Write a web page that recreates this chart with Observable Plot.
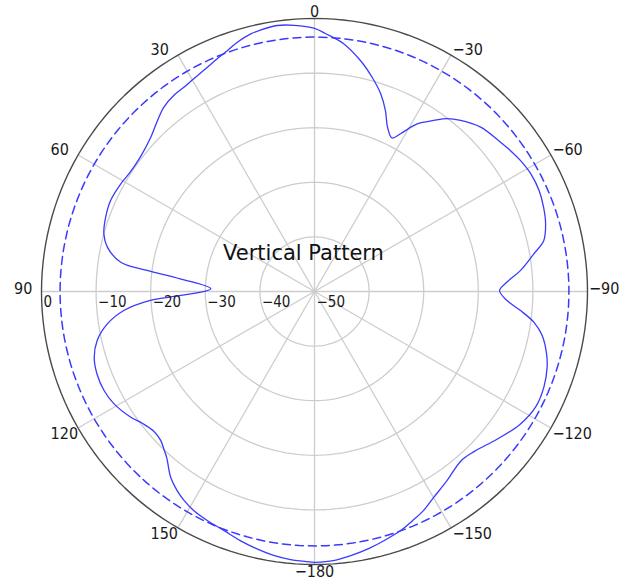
<!DOCTYPE html>
<html>
<head>
<meta charset="utf-8">
<script src="https://cdn.jsdelivr.net/npm/d3@7"></script>
<script src="https://cdn.jsdelivr.net/npm/@observablehq/plot@0.6"></script>
<style>
  html, body { margin: 0; padding: 0; background: #fff; }
</style>
</head>
<body>
<div id="chart"></div>
<script>
// ---- data ----
const title = "Vertical Pattern";
const angles = [-180,-176,-172,-168,-164,-160,-157,-153.5,-150,-145,-139,-135,-129,-123,-117.5,-112.5,-108,-105,-101,-98,-95.3,-92.7,-89.7,-87.2,-84.2,-80.2,-77.5,-73.7,-69.8,-65.8,-61.4,-57.5,-54.3,-50.7,-45.3,-40.5,-37.5,-34.9,-31.5,-28.6,-26.8,-24,-21.4,-18.5,-15.1,-11.3,-6.7,-2.4,0,4.4,8,11.7,13.9,17.2,19.9,22.7,26.6,29.6,32.6,35.7,39.3,42.6,46.7,52.3,57,61,66,70.4,74.7,77.9,81.4,82.8,84.6,88.5,91.7,93.1,95.7,98.9,102.7,106.6,110.7,115.2,119.2,124.3,127.5,131,134,136.5,138.5,142.2,145.4,148,151.1,154.9,159.2,163.4,167.4,171.2,174.9,180];
const gains = [-0.4,-0.6,-1.2,-1.9,-2.7,-3.5,-4.3,-5.2,-6.4,-7.7,-9.0,-8.6,-7.0,-5.2,-4.3,-4.5,-5.2,-6.0,-7.5,-9.4,-12.1,-14.7,-16.1,-14.7,-12.1,-9.2,-7.0,-5.9,-5.3,-4.9,-4.9,-5.3,-5.8,-6.4,-7.2,-8.8,-10.1,-11.8,-14.0,-17.1,-18.5,-17.1,-14.4,-11.8,-9.4,-6.9,-4.3,-2.7,-1.8,-1.1,-0.8,-1.1,-1.4,-2.2,-3.1,-3.8,-4.7,-5.2,-5.6,-5.8,-6.4,-7.5,-8.8,-9.7,-9.8,-9.4,-9.1,-9.4,-10.0,-11.2,-14.1,-19.1,-25.3,-31.0,-25.5,-19.9,-14.9,-11.6,-9.2,-7.9,-7.4,-7.4,-7.9,-9.2,-10.3,-11.0,-10.8,-10.0,-9.2,-7.0,-5.7,-4.9,-4.2,-3.7,-3.2,-2.4,-1.7,-1.1,-0.7,-0.4];
const radialTicks = [0, -10, -20, -30, -40, -50];
const angleTicks = [0, 30, 60, 90, 120, 150, -180, -150, -120, -90, -60, -30];
const halfPowerLevel = -3.4;   // dashed circle (peak - 3 dB)
const rMin = -50, rMax = 0;

// ---- polar mapping via an azimuthal projection centred on the pole ----
const lon = a => 180 + a;            // 0° at top, counter-clockwise positive
const lat = v => 90 - (v - rMin);    // rMin at centre, rMax on the rim
const circle = v => d3.geoCircle().center([0, 90]).radius(v - rMin)();
const rimLabel = rMax - 0.01;        // just inside the rim so nothing is clipped

const pattern = angles.map((a, i) => ({angle: a, gain: gains[i]}));
const fmt = d3.format("d");

function place(a) {
  if (a === 0) return {textAnchor: "middle", dx: 0, dy: -7};
  if (Math.abs(a) === 180) return {textAnchor: "middle", dx: 0, dy: 7};
  const dy = Math.abs(a) < 90 ? -5.5 : Math.abs(a) === 90 ? -3 : 5.5;
  return {textAnchor: "start", dx: a > 0 ? -27.5 : 1.5, dy};
}

const labelFont = "'Liberation Sans Narrow', 'DejaVu Sans Condensed', 'Arial Narrow', sans-serif";

const plot = Plot.plot({
  width: 626,
  height: 586,
  marginLeft: 41,
  marginRight: 39,
  marginTop: 18,
  marginBottom: 22,
  style: {background: "#fff", overflow: "visible"},
  projection: {
    type: "azimuthal-equidistant",
    rotate: [0, -90],
    domain: circle(rMax)
  },
  marks: [
    // grid rings
    Plot.geo(radialTicks.filter(v => v > rMin && v < rMax), {
      geometry: circle, stroke: "#cdcdcd", strokeWidth: 1.3, fill: "none"
    }),
    // spokes
    Plot.link(d3.range(0, 360, 30), {
      x1: a => lon(a), y1: 90, x2: a => lon(a), y2: lat(rMax),
      stroke: "#cdcdcd", strokeWidth: 1.3
    }),
    // outer rim
    Plot.geo([rMax], {geometry: circle, stroke: "#4a4a4a", strokeWidth: 1.4, fill: "none"}),
    // -3 dB dashed circle
    Plot.geo([halfPowerLevel], {
      geometry: circle, stroke: "#3a3aff", strokeWidth: 1.5,
      strokeDasharray: "8,5", fill: "none"
    }),
    // radiation pattern
    Plot.line(pattern, {
      x: d => lon(d.angle), y: d => lat(d.gain),
      stroke: "#3a3aff", strokeWidth: 1.3, curve: "catmull-rom"
    }),
    // radial tick labels along the 90° spoke
    Plot.text(radialTicks, {
      x: () => lon(90), y: v => lat(v === rMax ? rimLabel : v), text: v => fmt(v),
      textAnchor: "start", dx: 2, dy: 11,
      fontSize: 15, fontFamily: labelFont, fill: "#1a1a1a"
    }),
    // angle labels
    ...angleTicks.map(a => Plot.text([a], {
      x: () => lon(a), y: () => lat(rimLabel), text: d => fmt(d),
      ...place(a), fontSize: 16, fontFamily: labelFont, fill: "#1a1a1a"
    })),
    // title inside the chart
    Plot.text([title], {
      frameAnchor: "middle", dx: -11, dy: -38,
      fontSize: 21, fontFamily: "'DejaVu Sans', Verdana, sans-serif", fill: "#111"
    })
  ]
});

document.getElementById("chart").appendChild(plot);
</script>
</body>
</html>
